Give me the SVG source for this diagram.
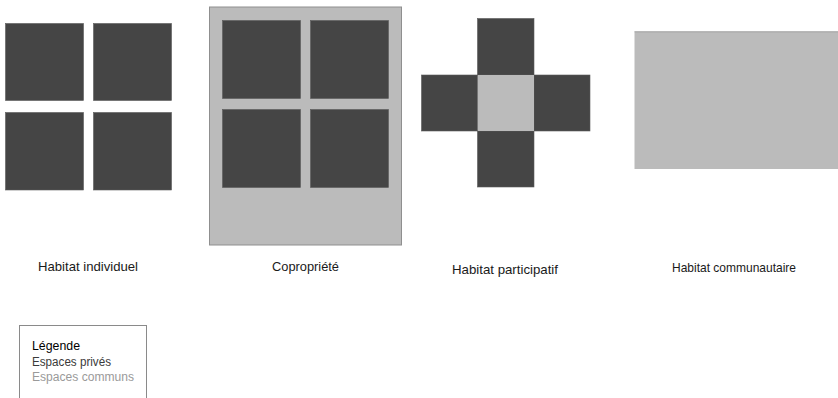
<svg xmlns="http://www.w3.org/2000/svg" width="838" height="398" viewBox="0 0 838 398">
<style>
.priv{fill:#454545;stroke:#5a5a5a;stroke-width:0.6}
.comm{fill:#bbbbbb}
.lbl{font-family:"Liberation Sans",Arial,sans-serif;font-size:13px;fill:#1a1a1a}
.leg{font-family:"Liberation Sans",Arial,sans-serif;font-size:12.5px}
</style>
<rect width="838" height="398" fill="#ffffff"/>
<g id="individuel">
<rect class="priv" x="5.5" y="23.5" width="78" height="77"/>
<rect class="priv" x="93.5" y="23.5" width="78" height="77"/>
<rect class="priv" x="5.5" y="112.5" width="78" height="77.5"/>
<rect class="priv" x="93.5" y="112.5" width="78" height="77.5"/>
<text class="lbl" x="38" y="271" textLength="100" lengthAdjust="spacingAndGlyphs">Habitat individuel</text>
</g>
<g id="copropriete">
<rect class="comm" x="209.5" y="7" width="192" height="238" stroke="#8f8f8f" stroke-width="1"/>
<rect class="priv" x="222.5" y="20.5" width="78" height="78"/>
<rect class="priv" x="310.5" y="20.5" width="78" height="78"/>
<rect class="priv" x="222.5" y="109.5" width="78" height="78"/>
<rect class="priv" x="310.5" y="109.5" width="78" height="78"/>
<text class="lbl" x="272" y="271" textLength="67" lengthAdjust="spacingAndGlyphs">Copropriété</text>
</g>
<g id="participatif">
<rect class="priv" x="477.5" y="18.5" width="56.5" height="56.5"/>
<rect class="priv" x="421.5" y="75" width="56" height="56"/>
<rect class="priv" x="534" y="75" width="56" height="56"/>
<rect class="priv" x="477.5" y="131" width="56.5" height="56"/>
<rect class="comm" x="478" y="75" width="56" height="56"/>
<text class="lbl" x="452" y="274" textLength="106" lengthAdjust="spacingAndGlyphs">Habitat participatif</text>
</g>
<g id="communautaire">
<rect class="comm" x="634.5" y="31.5" width="204" height="137.5"/>
<line x1="634.5" y1="31.8" x2="838" y2="31.8" stroke="#999" stroke-width="0.8"/>
<text class="lbl" x="672" y="272" textLength="124" lengthAdjust="spacingAndGlyphs">Habitat communautaire</text>
</g>
<g id="legende">
<rect x="19.5" y="325.5" width="127" height="73" fill="#ffffff" stroke="#8a8a8a" stroke-width="1"/>
<text class="leg" x="32" y="350" fill="#000000" textLength="48" lengthAdjust="spacingAndGlyphs">Légende</text>
<text class="leg" x="32" y="366" fill="#3a3a3a" textLength="79" lengthAdjust="spacingAndGlyphs">Espaces privés</text>
<text class="leg" x="32" y="381" fill="#9a9a9a" textLength="102" lengthAdjust="spacingAndGlyphs">Espaces communs</text>
</g>
<g id="connectors"/>
</svg>
